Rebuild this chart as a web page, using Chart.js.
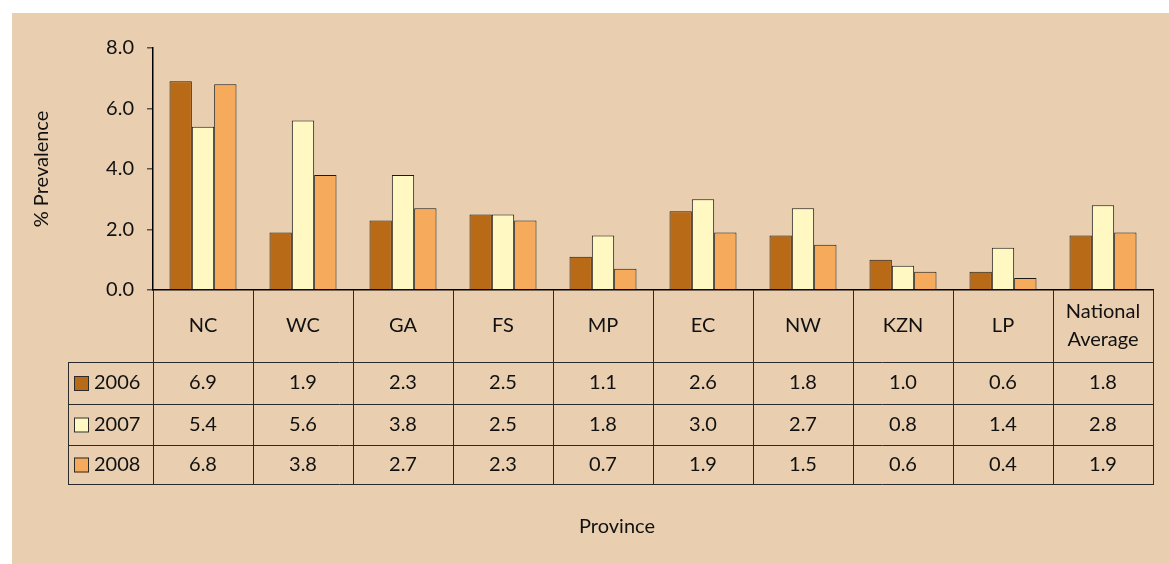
<!DOCTYPE html>
<html>
<head>
<meta charset="utf-8">
<script src="https://cdn.jsdelivr.net/npm/chart.js@4"></script>
<style>
  html, body { margin: 0; padding: 0; background: #ffffff; }
  canvas { display: block; }
</style>
</head>
<body>
<canvas id="chart" width="1169" height="564"></canvas>
<script>
// Province codes (last one wraps onto two lines)
const provinces = ['NC', 'WC', 'GA', 'FS', 'MP', 'EC', 'NW', 'KZN', 'LP', ['National', 'Average']];

// Prevalence (%) by survey year
const years = ['2006', '2007', '2008'];
const prev2006 = [6.9, 1.9, 2.3, 2.5, 1.1, 2.6, 1.8, 1.0, 0.6, 1.8];
const prev2007 = [5.4, 5.6, 3.8, 2.5, 1.8, 3.0, 2.7, 0.8, 1.4, 2.8];
const prev2008 = [6.8, 3.8, 2.7, 2.3, 0.7, 1.9, 1.5, 0.6, 0.4, 1.9];

// Y axis ticks
const yTicks = [0, 2, 4, 6, 8];

const FONT = 'Lato, "Open Sans", sans-serif';
const TEXT_SIZE = 20;
const seriesColors = ['#b86a16', '#fff8c2', '#f6aa5c'];
const panelColor = '#e9cfb0';
const lineColor = '#2b2b2b';

// Beige panel behind everything
const panelPlugin = {
  id: 'panel',
  beforeDraw(chart) {
    const ctx = chart.ctx;
    ctx.save();
    ctx.fillStyle = panelColor;
    ctx.fillRect(12, 13, chart.width - 12, chart.height - 13);
    ctx.restore();
  }
};

// Data table under the x axis: province header row + one row per year
const tablePlugin = {
  id: 'dataTable',
  afterDraw(chart) {
    const ctx = chart.ctx;
    const xs = chart.scales.x;
    const area = chart.chartArea;
    const n = provinces.length;
    const step = (area.right - area.left) / n;
    const top = area.bottom;
    const headerBottom = top + 72;
    const rowH = [42, 41, 39];
    const rowsY = [headerBottom];
    rowH.forEach(h => rowsY.push(rowsY[rowsY.length - 1] + h));
    const bottom = rowsY[rowsY.length - 1];
    const legendLeft = 68;

    ctx.save();
    ctx.strokeStyle = lineColor;
    ctx.lineWidth = 1;

    // vertical column lines
    for (let i = 0; i <= n; i++) {
      const x = Math.round(area.left + i * step) + 0.5;
      ctx.beginPath();
      ctx.moveTo(x, top);
      ctx.lineTo(x, bottom);
      ctx.stroke();
    }
    // legend column left edge
    ctx.beginPath();
    ctx.moveTo(legendLeft + 0.5, headerBottom);
    ctx.lineTo(legendLeft + 0.5, bottom);
    ctx.stroke();
    // horizontal row lines
    rowsY.forEach(y => {
      ctx.beginPath();
      ctx.moveTo(legendLeft, Math.round(y) + 0.5);
      ctx.lineTo(area.right + 1, Math.round(y) + 0.5);
      ctx.stroke();
    });

    ctx.fillStyle = '#111111';
    ctx.font = TEXT_SIZE + 'px ' + FONT;
    ctx.textAlign = 'center';
    ctx.textBaseline = 'middle';

    // header labels
    provinces.forEach((p, i) => {
      const cx = xs.getPixelForTick(i);
      const lines = Array.isArray(p) ? p : [p];
      const mid = (top + headerBottom) / 2;
      const lh = 28;
      lines.forEach((t, k) => {
        ctx.fillText(t, cx, mid + (k - (lines.length - 1) / 2) * lh);
      });
    });

    // value rows with legend keys
    chart.data.datasets.forEach((ds, r) => {
      const cy = (rowsY[r] + rowsY[r + 1]) / 2;
      ds.data.forEach((v, i) => {
        ctx.fillText(v.toFixed(1), xs.getPixelForTick(i), cy);
      });
      // legend swatch
      ctx.fillStyle = ds.backgroundColor;
      ctx.fillRect(74, cy - 7, 15, 15);
      ctx.strokeStyle = lineColor;
      ctx.strokeRect(74.5, cy - 6.5, 14, 14);
      ctx.fillStyle = '#111111';
      ctx.textAlign = 'left';
      ctx.fillText(ds.label, 94, cy);
      ctx.textAlign = 'center';
    });

    // x axis title
    ctx.fillText('Province', 617, 527);
    ctx.restore();
  }
};

new Chart(document.getElementById('chart'), {
  type: 'bar',
  data: {
    labels: provinces,
    datasets: [
      { label: years[0], data: prev2006, backgroundColor: seriesColors[0] },
      { label: years[1], data: prev2007, backgroundColor: seriesColors[1] },
      { label: years[2], data: prev2008, backgroundColor: seriesColors[2] }
    ].map(d => Object.assign(d, {
      borderColor: '#1a1a1a',
      borderWidth: 1,
      borderSkipped: 'bottom',
      categoryPercentage: 0.67,
      barPercentage: 1.0
    }))
  },
  options: {
    responsive: false,
    animation: false,
    layout: { padding: { left: 0, right: 16, top: 48, bottom: 274 } },
    plugins: {
      legend: { display: false },
      tooltip: { enabled: false }
    },
    scales: {
      x: {
        grid: { display: false },
        ticks: { display: false },
        border: { display: true, color: '#000000', width: 1.5 },
        afterFit(scale) { scale.height = 0; }
      },
      y: {
        min: 0,
        max: 8,
        afterBuildTicks(scale) { scale.ticks = yTicks.map(v => ({ value: v })); },
        afterFit(scale) { scale.width = 153; },
        grid: {
          drawOnChartArea: false,
          drawTicks: true,
          tickLength: 6,
          color: '#555555',
          lineWidth: 1.5
        },
        border: { display: true, color: '#000000', width: 1.5 },
        ticks: {
          padding: 13,
          color: '#111111',
          font: { family: FONT, size: TEXT_SIZE },
          callback: v => Number(v).toFixed(1)
        },
        title: {
          display: true,
          text: '% Prevalence',
          color: '#111111',
          font: { family: FONT, size: 20 },
          padding: { top: 30, bottom: 0 }
        }
      }
    }
  },
  plugins: [panelPlugin, tablePlugin]
});
</script>
</body>
</html>
